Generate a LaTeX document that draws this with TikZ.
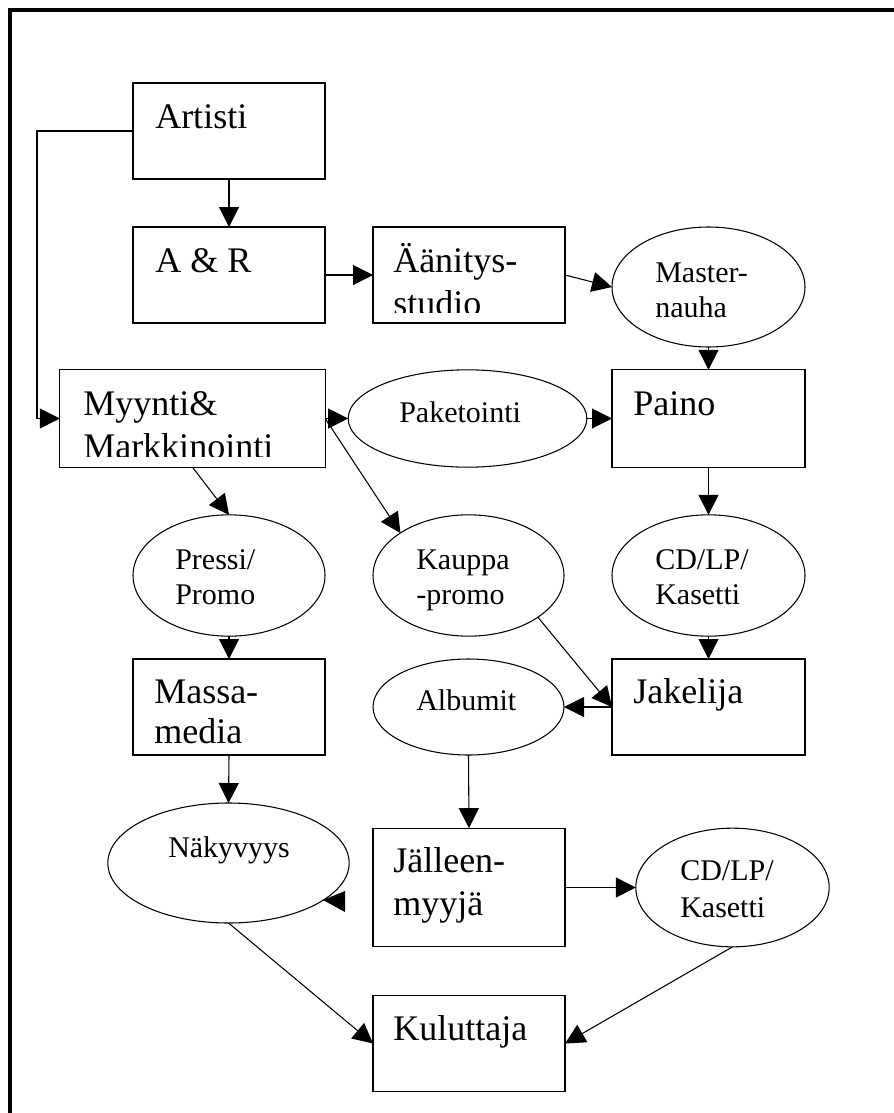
\documentclass[tikz,border=0pt]{standalone}
\usepackage{fontspec}
\setmainfont{Liberation Serif}
\usetikzlibrary{arrows.meta,calc,shapes.geometric}
\begin{document}
\begin{tikzpicture}[x=0.75pt,y=-0.75pt,
  box/.style={draw,line width=0.8pt,rectangle,inner sep=0pt,outer sep=0pt},
  oval/.style={draw,line width=0.8pt,ellipse,inner sep=0pt,outer sep=0pt},
  big/.style={inner sep=0pt,anchor=base west,font=\fontsize{27}{32}\selectfont},
  small/.style={inner sep=0pt,anchor=base west,font=\fontsize{22.5}{27}\selectfont},
  arr/.style={line width=0.8pt,-{Triangle[length=15pt,width=15pt]}}]
\useasboundingbox (0,0) rectangle (893,1113);
% frame
\draw[line width=3pt] (10,1120) -- (10,10) -- (900,10);
% shapes
\node[box,minimum width=144pt,minimum height=72pt] (artisti) at (229,131) {};
\node[box,minimum width=144pt,minimum height=72pt] (ar) at (229,275) {};
\node[box,minimum width=144pt,minimum height=72pt] (aan) at (469,275) {};
\node[oval,minimum width=144.75pt,minimum height=90pt] (master) at (708.5,287) {};
\node[box,minimum width=199pt,minimum height=73pt] (myynti) at (192.5,418.5) {};
\node[oval,minimum width=179pt,minimum height=73pt] (pak) at (467.5,418.5) {};
\node[box,minimum width=144.75pt,minimum height=73pt] (paino) at (708.5,418.5) {};
\node[oval,minimum width=144pt,minimum height=91pt] (pressi) at (229,575.5) {};
\node[oval,minimum width=143.25pt,minimum height=91pt] (kauppa) at (468.5,575.5) {};
\node[oval,minimum width=144.75pt,minimum height=91pt] (cda) at (708.5,575.5) {};
\node[box,minimum width=144pt,minimum height=72pt] (massa) at (229,707) {};
\node[oval,minimum width=143.25pt,minimum height=72pt] (album) at (468.5,707) {};
\node[box,minimum width=144.75pt,minimum height=72pt] (jakelija) at (708.5,707) {};
\node[oval,minimum width=181pt,minimum height=90pt] (naky) at (228.5,863) {};
\node[box,minimum width=144pt,minimum height=89pt] (jal) at (469,887.5) {};
\node[oval,minimum width=145pt,minimum height=89pt] (cdb) at (732.5,887.5) {};
\node[box,minimum width=144pt,minimum height=71.5pt] (kul) at (469,1043.5) {};
% texts
\node[big] (t-artisti) at (155,128) {Artisti};
\node[big] (t-ar) at (155,272) {A \& R};
\node[big] (t-aan1) at (393,272) {Äänitys-};
\begin{scope}
\clip (aan.north west) rectangle (565,312);
\node[big] (t-aan2) at (393,315) {studio};
\end{scope}
\node[small] (t-mas1) at (655,282) {Master-};
\node[small] (t-mas2) at (655,317) {nauha};
\node[big] (t-my1) at (83,415) {Myynti\&};
\begin{scope}
\clip (myynti.north west) rectangle (325,456);
\node[big] (t-my2) at (83,458) {Markkinointi};
\end{scope}
\node[small] (t-pak) at (399,422) {Paketointi};
\node[big] (t-paino) at (633,415) {Paino};
\node[small] (t-pr1) at (175,569) {Pressi/};
\node[small] (t-pr2) at (175,604) {Promo};
\node[small] (t-ka1) at (416,569) {Kauppa};
\node[small] (t-ka2) at (416,604) {-promo};
\node[small] (t-cda1) at (655,569) {CD/LP/};
\node[small] (t-cda2) at (655,604) {Kasetti};
\node[big] (t-ma1) at (154,703) {Massa-};
\node[big] (t-ma2) at (154,743) {media};
\node[small] (t-alb) at (416,710) {Albumit};
\node[big] (t-jak) at (633,703) {Jakelija};
\node[small] (t-nak) at (168,857) {Näkyvyys};
\node[big] (t-jal1) at (393,872) {Jälleen-};
\node[big] (t-jal2) at (393,915) {myyjä};
\node[small] (t-cdb1) at (680,880) {CD/LP/};
\node[small] (t-cdb2) at (680,917) {Kasetti};
\node[big] (t-kul) at (393,1040) {Kuluttaja};
% connectors
\draw[arr] (artisti.west) -- (37,131) |- (myynti.west);
\draw[arr] (artisti.south) -- (ar.north);
\draw[arr] (ar.east) -- (aan.west);
\draw[arr] (aan.east) -- (master.west);
\draw[arr] (master.south) -- (paino.north);
\draw[arr] (myynti.east) -- (pak.west);
\draw[arr] (pak.east) -- (paino.west);
\draw[arr] (myynti.east) -- (kauppa.148);
\draw[arr] (myynti.south) -- (pressi.north);
\draw[arr] (paino.south) -- (cda.north);
\draw[arr] (pressi.south) -- (massa.north);
\draw[arr] (kauppa.-31) -- (jakelija.west);
\draw[arr] (cda.south) -- (jakelija.north);
\draw[arr] (jakelija.west) -- (album.east);
\draw[arr] (massa.south) -- (naky.north);
\draw[arr] (album.south) -- (jal.north);
% lone arrowhead beside Näkyvyys
\coordinate (stubTip) at (323,900);
\coordinate (stubUp) at (345,891);
\coordinate (stubDown) at (345,912);
\fill (stubTip) -- (stubUp) -- (stubDown) -- cycle;
\draw[arr] (jal.east |- cdb.west) -- (cdb.west);
\draw[arr] (naky.south) -- (kul.west);
\draw[arr] (cdb.south) -- (kul.east);
\end{tikzpicture}
\end{document}
